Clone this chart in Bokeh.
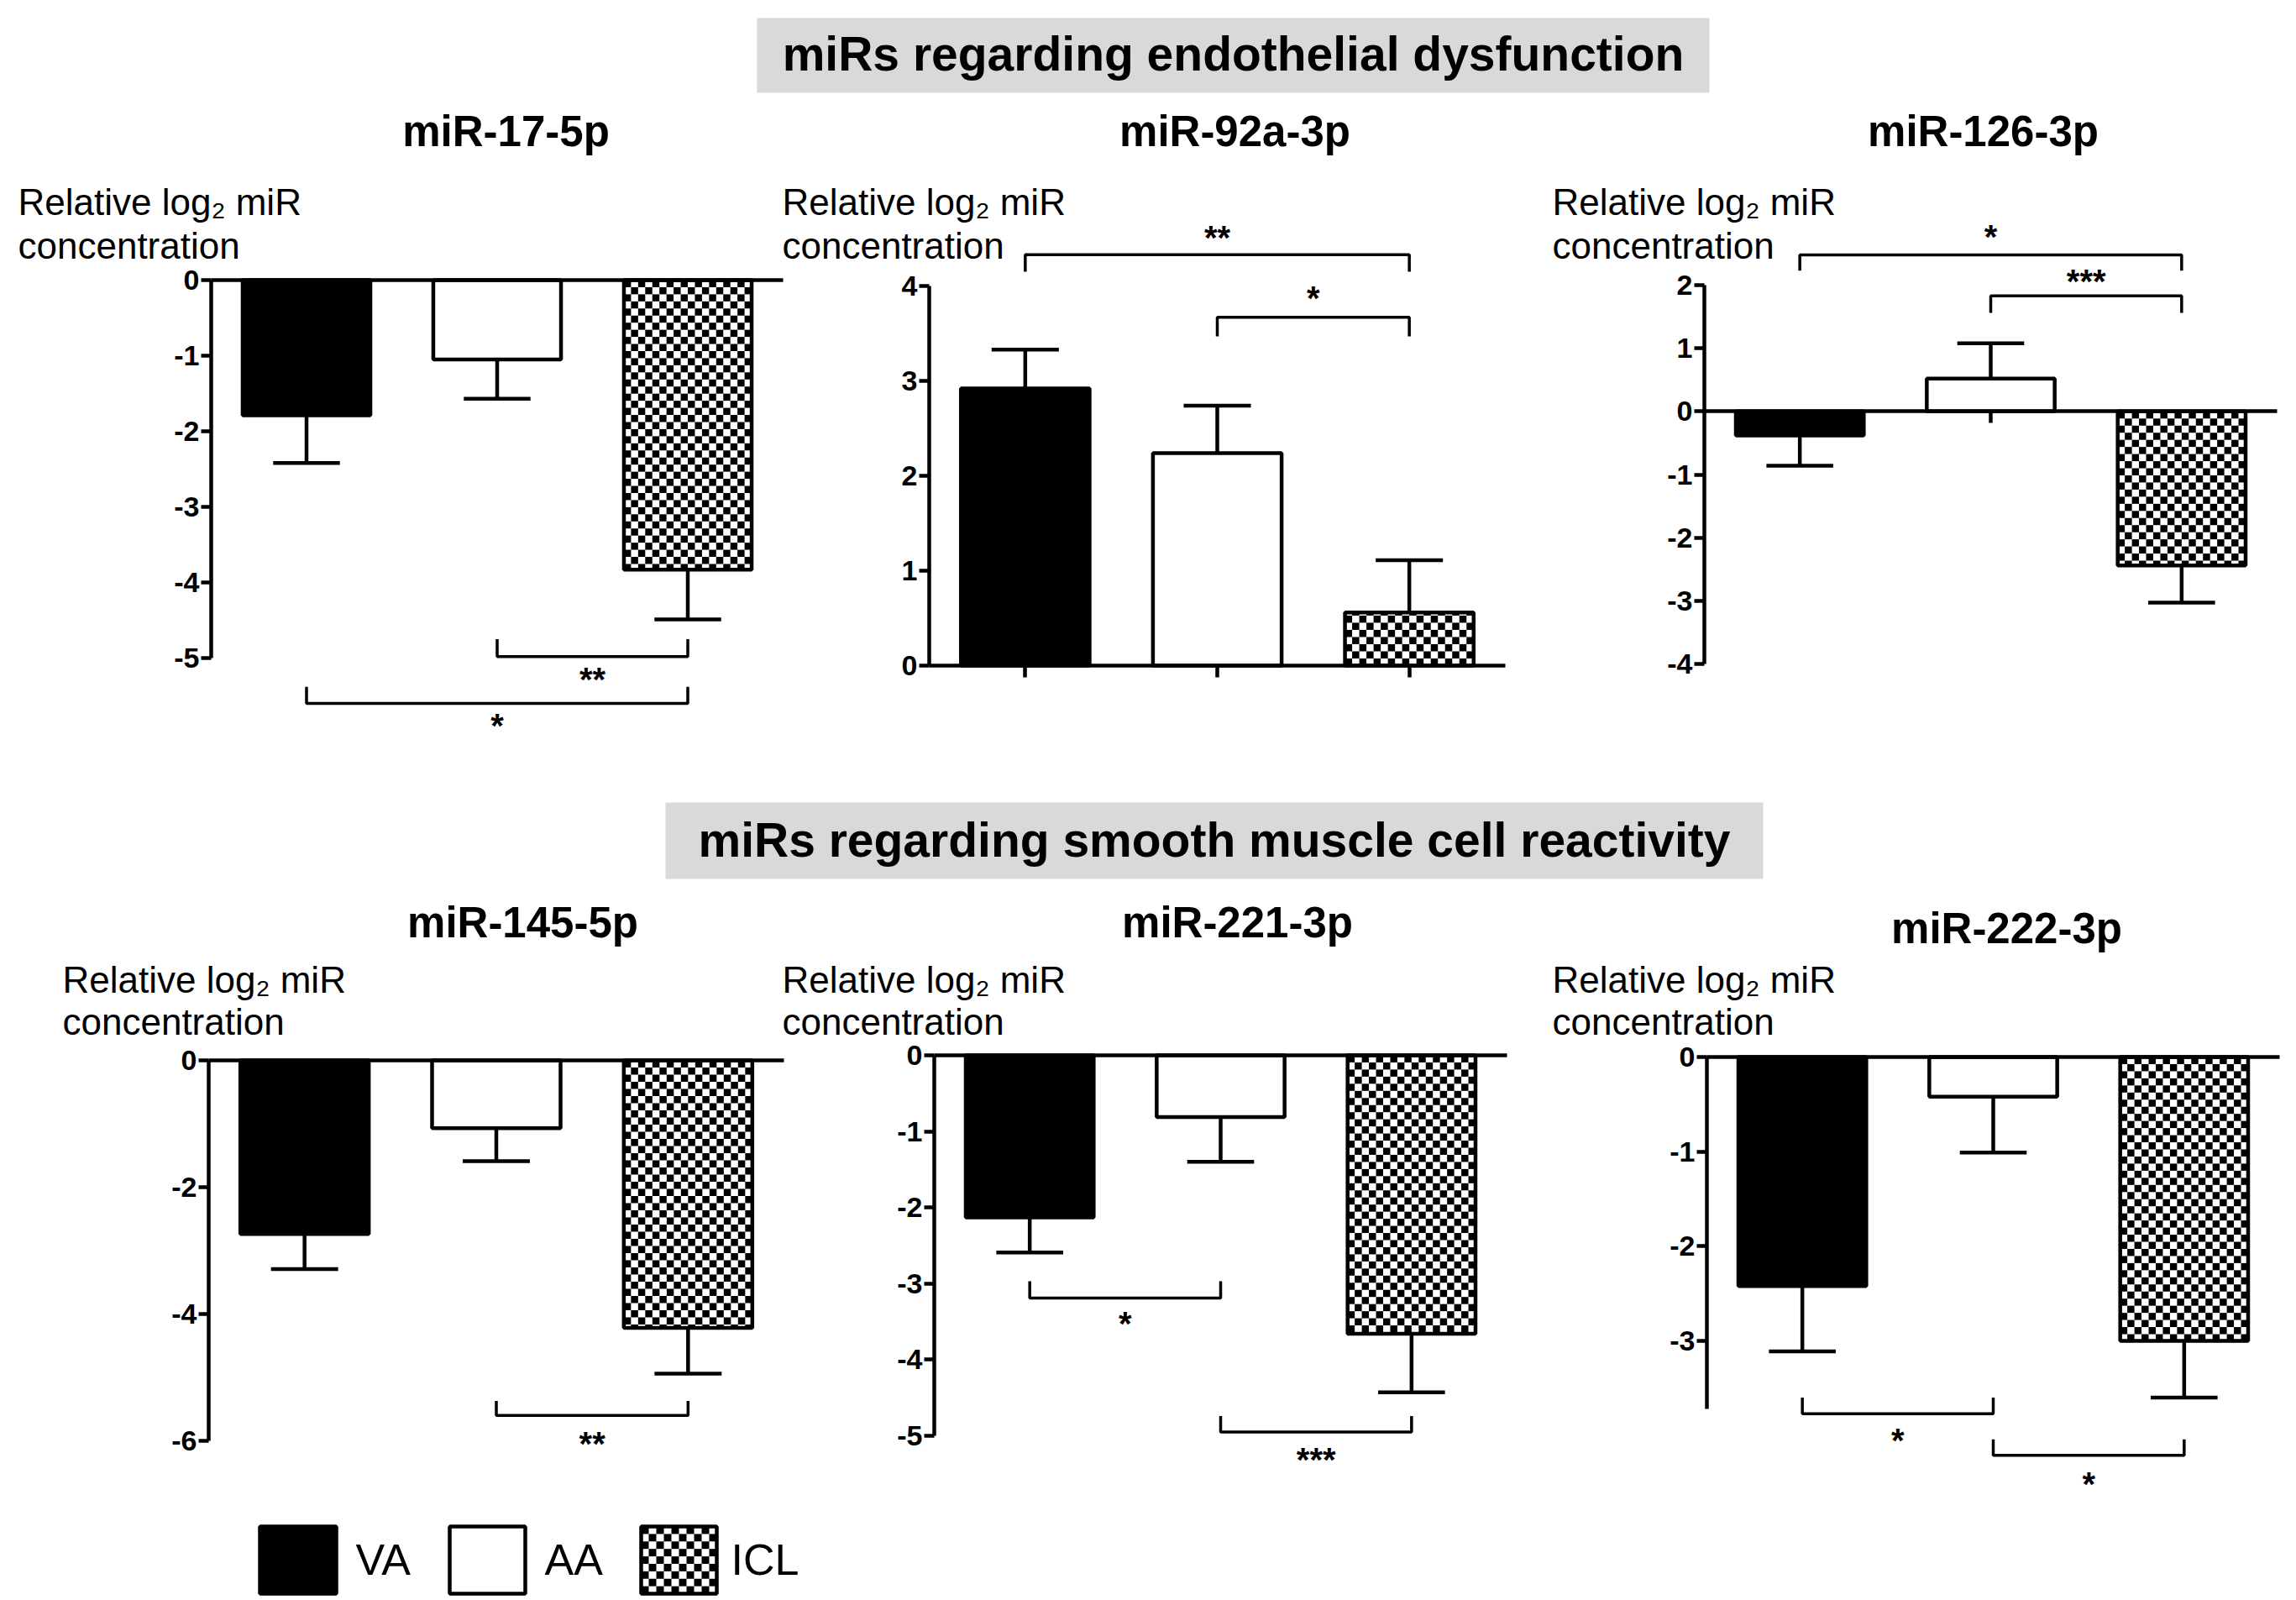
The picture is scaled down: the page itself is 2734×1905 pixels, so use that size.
import numpy as np
from bokeh.plotting import figure
from bokeh.models import (Range1d, LinearAxis, FixedTicker, ColumnDataSource,
                          CustomJSTickFormatter)
from bokeh.core.properties import value
from bokeh.embed import file_html
from bokeh.resources import INLINE

# ---------------- data ----------------
groups = ["VA", "AA", "ICL"]
section_titles = ["miRs regarding endothelial dysfunction",
                  "miRs regarding smooth muscle cell reactivity"]
panel_names = ["miR-17-5p", "miR-92a-3p", "miR-126-3p",
               "miR-145-5p", "miR-221-3p", "miR-222-3p"]
y_label_lines = ["Relative log\u2082 miR", "concentration"]

mean_mir17 = [-1.79, -1.05, -3.83]
sem_mir17 = [0.63, 0.52, 0.66]
mean_mir92a = [2.92, 2.24, 0.56]
sem_mir92a = [0.41, 0.50, 0.55]
mean_mir126 = [-0.38, 0.52, -2.44]
sem_mir126 = [0.48, 0.56, 0.59]
mean_mir145 = [-2.74, -1.07, -4.22]
sem_mir145 = [0.55, 0.52, 0.72]
mean_mir221 = [-2.13, -0.81, -3.66]
sem_mir221 = [0.46, 0.59, 0.77]
mean_mir222 = [-2.42, -0.42, -3.00]
sem_mir222 = [0.69, 0.59, 0.60]

ticks_mir17 = [0, -1, -2, -3, -4, -5]
ticks_mir92a = [0, 1, 2, 3, 4]
ticks_mir126 = [2, 1, 0, -1, -2, -3, -4]
ticks_mir145 = [0, -2, -4, -6]
ticks_mir221 = [0, -1, -2, -3, -4, -5]
ticks_mir222 = [0, -1, -2, -3]

# significance: (label, from group, to group)
sig_mir17 = [("**", 1, 2), ("*", 0, 2)]
sig_mir92a = [("**", 0, 2), ("*", 1, 2)]
sig_mir126 = [("*", 0, 2), ("***", 1, 2)]
sig_mir145 = [("**", 1, 2)]
sig_mir221 = [("*", 0, 1), ("***", 1, 2)]
sig_mir222 = [("*", 0, 1), ("*", 1, 2)]

# ---------------- layout (page pixel coordinates) ----------------
W, H = 2734, 1905
FONT = value("Liberation Sans")
TXT_SHIFT = 0.37  # baseline correction, in em

panels = [
    dict(mean=mean_mir17, sem=sem_mir17, ticks=ticks_mir17, sig=sig_mir17,
         ybounds=(-5, 0), ax=251, ar=932, yv=(0, -5), yr=(333, 783), xticks=[],
         title=(602, 175), ylab=(21, 256, 308),
         br=[(-4.98, -4.75, -5.19), (-5.60, -5.38, -5.80)]),
    dict(mean=mean_mir92a, sem=sem_mir92a, ticks=ticks_mir92a, sig=sig_mir92a,
         ybounds=(0, 4), ax=1106, ar=1792, yv=(0, 4), yr=(792, 340), xticks=[0, 1, 2],
         title=(1470, 175), ylab=(931, 256, 308),
         br=[(4.33, 4.15, 4.58), (3.67, 3.47, 3.94)]),
    dict(mean=mean_mir126, sem=sem_mir126, ticks=ticks_mir126, sig=sig_mir126,
         ybounds=(-4, 2), ax=2029, ar=2711, yv=(2, -4), yr=(339, 790), xticks=[1],
         title=(2361, 175), ylab=(1848, 256, 308),
         br=[(2.48, 2.23, 2.87), (1.83, 1.56, 2.17)]),
    dict(mean=mean_mir145, sem=sem_mir145, ticks=ticks_mir145, sig=sig_mir145,
         ybounds=(-6, 0), ax=248, ar=933, yv=(0, -6), yr=(1262, 1715), xticks=[],
         title=(622, 1117), ylab=(74, 1182, 1232),
         br=[(-5.60, -5.37, -5.94)]),
    dict(mean=mean_mir221, sem=sem_mir221, ticks=ticks_mir221, sig=sig_mir221,
         ybounds=(-5, 0), ax=1112, ar=1794, yv=(0, -5), yr=(1256, 1709), xticks=[],
         title=(1473, 1117), ylab=(931, 1182, 1232),
         br=[(-3.19, -2.97, -3.44), (-4.95, -4.74, -5.22)]),
    dict(mean=mean_mir222, sem=sem_mir222, ticks=ticks_mir222, sig=sig_mir222,
         ybounds=(-3.72, 0), ax=2032, ar=2714, yv=(0, -3), yr=(1258, 1596), xticks=[],
         title=(2389, 1124), ylab=(1848, 1182, 1232),
         br=[(-3.77, -3.60, -3.98), (-4.21, -4.04, -4.44)]),
]

p = figure(width=W, height=H, x_range=Range1d(0, W), y_range=Range1d(H, 0),
           x_axis_type=None, y_axis_type=None, min_border=0,
           toolbar_location=None, output_backend="svg", outline_line_color=None)
p.background_fill_color = "white"


def txt(fs, extra=0.0):
    return dict(text_font=FONT, text_font_size=f"{fs}px",
                text_baseline="alphabetic", y_offset=-TXT_SHIFT * fs + extra,
                text_color="black")


# section banners
p.quad(left=[901, 792], right=[2035, 2099], top=[21, 955], bottom=[110, 1046],
       fill_color="#d9d9d9", line_color=None)
p.text(x=[1468, 1445.5], y=[85, 1021], text=section_titles, text_font_style="bold",
       text_align="center", **txt(57))

LW = 4.5
BAR_W = 0.67
CAP = 0.175
CELL_PX = 8.6
bar_fill = ["black", "white", "white"]
checkered = [False, False, True]

for i, cfg in enumerate(panels):
    xn, yn = f"x{i}", f"y{i}"
    ax, ar = cfg["ax"], cfg["ar"]
    kx = 3.0 / (ar - ax)
    p.extra_x_ranges[xn] = Range1d(-0.5 - ax * kx, -0.5 + (W - ax) * kx)
    (v0, v1), (r0, r1) = cfg["yv"], cfg["yr"]
    ky = (v1 - v0) / (r1 - r0)
    p.extra_y_ranges[yn] = Range1d(v0 + (H - r0) * ky, v0 + (0 - r0) * ky)

    xs = np.arange(len(groups), dtype=float)
    m = np.array(cfg["mean"])
    s = np.array(cfg["sem"])
    end = m + np.sign(m) * s

    # error bars
    p.segment(x0=xs, y0=m, x1=xs, y1=end, line_color="black", line_width=LW,
              x_range_name=xn, y_range_name=yn)
    p.segment(x0=xs - CAP, y0=end, x1=xs + CAP, y1=end, line_color="black",
              line_width=LW, x_range_name=xn, y_range_name=yn)

    src = ColumnDataSource(dict(x=xs, top=m, fill=bar_fill))
    p.vbar(x="x", top="top", bottom=0, width=BAR_W, source=src,
           fill_color="fill", line_color="black", line_width=LW,
           x_range_name=xn, y_range_name=yn)

    # checker texture inside the ICL bar (derived from the bar's extent)
    ncols = int(round(BAR_W / kx / CELL_PX))
    dw = BAR_W / ncols
    dh = dw / kx * abs(ky)
    cl, cr, cb, ct = [], [], [], []
    for g in np.nonzero(checkered)[0]:
        mv = m[g]
        sign = 1.0 if mv >= 0 else -1.0
        nrows = int(np.ceil(abs(mv) / dh))
        for rr in range(nrows):
            for cc in range(ncols):
                if (rr + cc) % 2 == 0:
                    left = xs[g] - BAR_W / 2 + cc * dw
                    cl.append(left)
                    cr.append(left + dw)
                    cb.append(sign * rr * dh)
                    ct.append(sign * min((rr + 1) * dh, abs(mv)))
    p.quad(left=cl, right=cr, bottom=cb, top=ct, fill_color="black",
           line_color=None, x_range_name=xn, y_range_name=yn)

    # significance brackets
    bxs, bys, lx, ly, lt = [], [], [], [], []
    for (lab, a, b), (yl, yt, ylab) in zip(cfg["sig"], cfg["br"]):
        bxs.append([a, a, b, b])
        bys.append([yt, yl, yl, yt])
        lx.append((a + b) / 2)
        ly.append(ylab)
        lt.append(lab)
    p.multi_line(xs=bxs, ys=bys, line_color="black", line_width=3.5,
                 x_range_name=xn, y_range_name=yn)
    p.text(x=lx, y=ly, text=lt, text_font_style="bold", text_align="center",
           x_range_name=xn, y_range_name=yn, **txt(40, extra=0.575 * 40))

    # axes
    yax = LinearAxis(x_range_name=xn, y_range_name=yn, fixed_location=-0.5,
                     bounds=cfg["ybounds"], ticker=FixedTicker(ticks=cfg["ticks"]),
                     formatter=CustomJSTickFormatter(code="return String(Math.round(tick*100)/100)"),
                     axis_line_width=LW, axis_line_color="black",
                     major_tick_line_width=LW, major_tick_out=12, major_tick_in=0,
                     minor_tick_out=0, minor_tick_in=0, major_label_standoff=2,
                     major_label_text_font="Liberation Sans",
                     major_label_text_font_style="bold",
                     major_label_text_font_size="34px",
                     major_label_text_color="black")
    p.add_layout(yax, "left")
    xax = LinearAxis(x_range_name=xn, y_range_name=yn, fixed_location=0,
                     bounds=(-0.5, 2.5), ticker=FixedTicker(ticks=cfg["xticks"]),
                     formatter=CustomJSTickFormatter(code="return ''"),
                     axis_line_width=LW, axis_line_color="black",
                     major_tick_line_width=LW, major_tick_out=14, major_tick_in=0,
                     minor_tick_out=0, minor_tick_in=0)
    p.add_layout(xax, "below")

# panel titles and y labels
p.text(x=[c["title"][0] for c in panels], y=[c["title"][1] for c in panels],
       text=panel_names, text_font_style="bold", text_align="center", **txt(51))
lab_x, lab_y, lab_t = [], [], []
for c in panels:
    x, b1, b2 = c["ylab"]
    lab_x += [x, x]
    lab_y += [b1, b2]
    lab_t += y_label_lines
p.text(x=lab_x, y=lab_y, text=lab_t, text_align="left", **txt(44))

# legend (swatches + labels)
sw_left = [309, 535, 763]
sw_right = [400, 625, 853]
sw_top, sw_bottom = 1817, 1897
p.quad(left=sw_left, right=sw_right, top=[sw_top] * 3, bottom=[sw_bottom] * 3,
       fill_color=bar_fill, line_color="black", line_width=LW)
ql, qr, qt, qb = [], [], [], []
cell = 9.0
for g in np.nonzero(checkered)[0]:
    nc = int(round((sw_right[g] - sw_left[g]) / cell))
    cw = (sw_right[g] - sw_left[g]) / nc
    nr = int(round((sw_bottom - sw_top) / cell))
    ch = (sw_bottom - sw_top) / nr
    for rr in range(nr):
        for cc in range(nc):
            if (rr + cc) % 2 == 0:
                ql.append(sw_left[g] + cc * cw)
                qr.append(sw_left[g] + (cc + 1) * cw)
                qt.append(sw_top + rr * ch)
                qb.append(sw_top + (rr + 1) * ch)
p.quad(left=ql, right=qr, top=qt, bottom=qb, fill_color="black", line_color=None)
p.text(x=[423, 648, 870], y=[1876, 1876, 1876], text=groups, text_align="left",
       **txt(52))

open("out.html", "w").write(file_html(p, INLINE))
